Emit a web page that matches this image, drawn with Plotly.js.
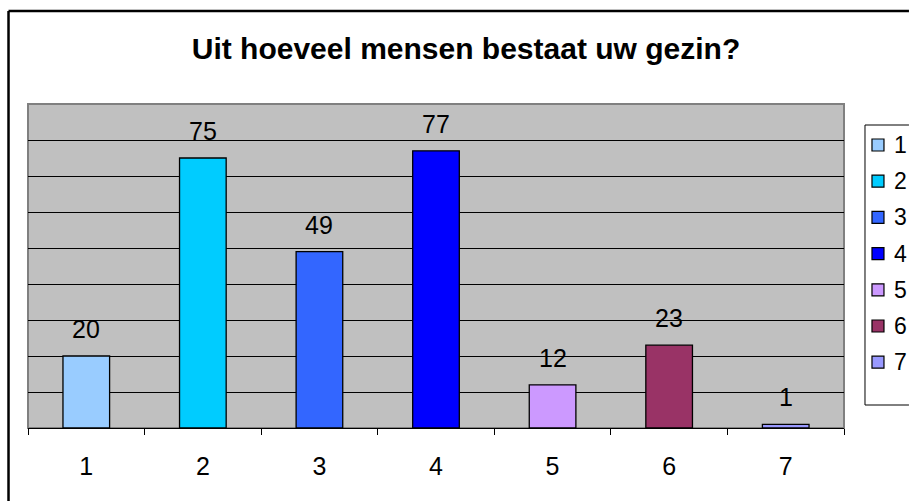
<!DOCTYPE html>
<html><head><meta charset="utf-8">
<script src="https://cdn.plot.ly/plotly-3.0.1.min.js"></script>
<style>html,body{margin:0;padding:0;background:#fff;overflow:hidden;}#chart{width:909px;height:501px;}</style>
</head><body><div id="chart"></div>
<script>
var categories = ["1","2","3","4","5","6","7"];
var values = [20, 75, 49, 77, 12, 23, 1];
var colors = ["#99CCFF","#00CCFF","#3366FF","#0000FF","#CC99FF","#993366","#9999FF"];
var titleText = "Uit hoeveel mensen bestaat uw gezin?";

var W = 909, H = 501;
var L = 27.5, R = 844, T = 104, B = 428;
function px(x){ return (x - L) / (R - L); }
function py(y){ return (B - y) / (B - T); }
function line(x0, y0, x1, y1, color, width){
  return {type:"line", xref:"paper", yref:"paper", x0:px(x0), y0:py(y0), x1:px(x1), y1:py(y1),
    line:{color:color, width:width}};
}

var traces = categories.map(function(c, i){
  return {type:"bar", x:[c], y:[values[i]], name:c, width:0.4,
    marker:{color:colors[i], line:{color:"#000", width:1.3}},
    showlegend:false, hoverinfo:"skip"};
});

var annotations = categories.map(function(c, i){
  return {x:i, y:values[i], xref:"x", yref:"y", text:String(values[i]), showarrow:false,
    yanchor:"middle", yshift:27, font:{family:"Liberation Sans, Arial", size:25, color:"#000"}};
});

var shapes = [
  {type:"rect", xref:"paper", yref:"paper", x0:0, x1:1, y0:0, y1:1, layer:"below",
   line:{color:"#808080", width:2}, fillcolor:"rgba(0,0,0,0)"},
  // outer chart border (right and bottom edges fall outside the picture)
  line(8, 11, 909, 11, "#000", 2.5),
  line(8, 11, 8, 501, "#000", 2.5),
  // legend box (right edge falls outside the picture)
  {type:"rect", xref:"paper", yref:"paper", x0:px(865), x1:px(909), y0:py(405), y1:py(125),
   line:{width:0}, fillcolor:"#fff"},
  line(865, 125, 909, 125, "#000", 1),
  line(865, 405, 909, 405, "#000", 1),
  line(865, 125, 865, 405, "#000", 1)
];
categories.forEach(function(c, i){
  var cy = 145 + 36.2*i;
  shapes.push({type:"rect", xref:"paper", yref:"paper", x0:px(872), x1:px(884), y0:py(cy+6), y1:py(cy-6),
    line:{color:"#000", width:1.2}, fillcolor:colors[i]});
  annotations.push({xref:"paper", yref:"paper", x:px(892), y:py(cy), text:c, showarrow:false,
    xanchor:"left", yanchor:"middle", font:{family:"Liberation Sans, Arial", size:23, color:"#000"}});
});

var layout = {
  width:W, height:H,
  margin:{l:L, r:W-R, t:T, b:H-B, pad:0},
  paper_bgcolor:"#fff", plot_bgcolor:"#C0C0C0",
  title:{text:titleText, x:(466)/W, xanchor:"center", y:1-48/H, yanchor:"middle",
    font:{family:"Liberation Sans, Arial", size:30, weight:700, color:"#000"}},
  xaxis:{type:"category", range:[-0.5,6.5], tickson:"boundaries", ticks:"outside", ticklen:6,
    tickcolor:"#000", tickwidth:1, showline:true, linecolor:"#000", linewidth:1.3,
    showgrid:false, ticklabelstandoff:16,
    tickfont:{family:"Liberation Sans, Arial", size:25, color:"#000"}, fixedrange:true},
  yaxis:{range:[0,90], dtick:10, showticklabels:false, ticks:"", showgrid:true,
    gridcolor:"#000", gridwidth:1, zeroline:false, showline:false, fixedrange:true},
  bargap:0.6, showlegend:false,
  shapes:shapes, annotations:annotations
};

Plotly.newPlot("chart", traces, layout, {displayModeBar:false, staticPlot:true});
</script></body></html>
